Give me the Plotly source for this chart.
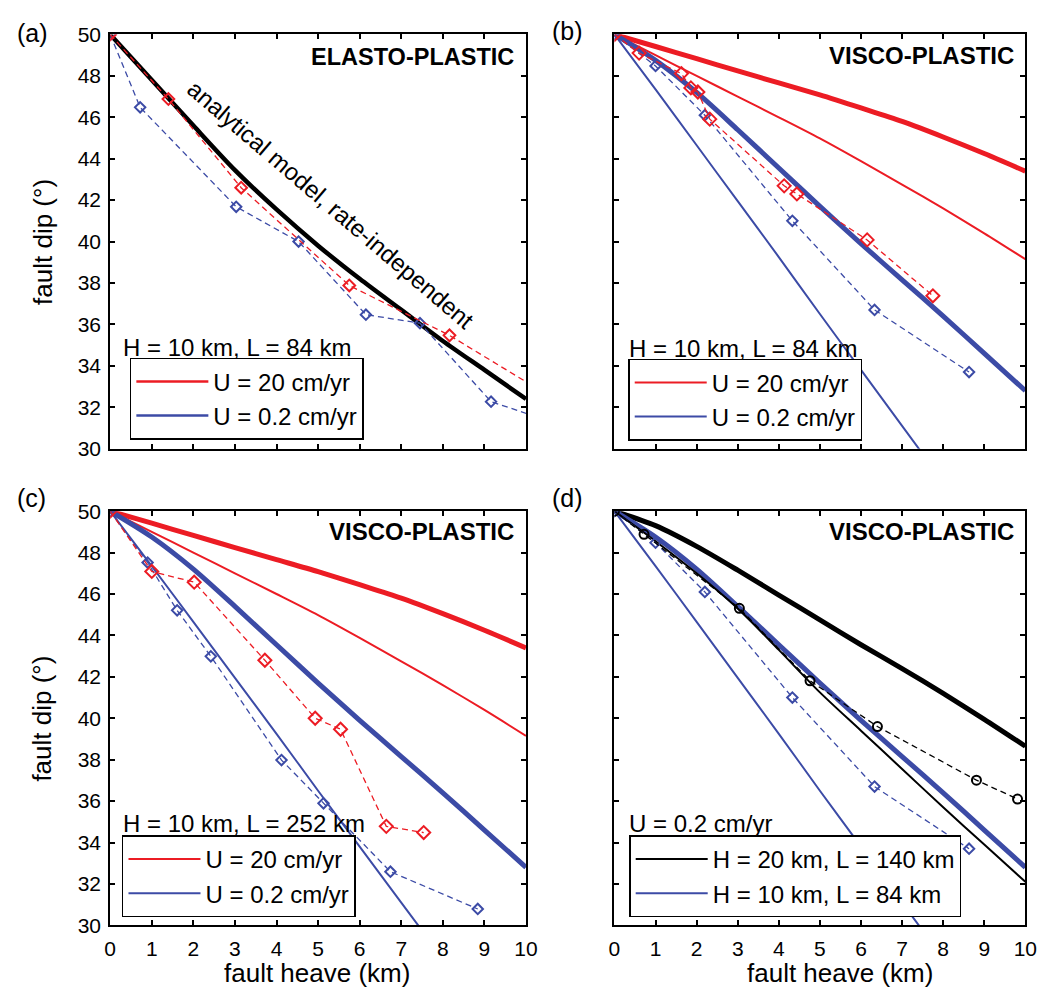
import plotly.graph_objects as go
from plotly.subplots import make_subplots

# ---------------- data ----------------
heave = [0, 1, 2, 3, 4, 5, 6, 7, 8, 9, 10]

# (a) elasto-plastic
a_analytical = [50, 47.8, 45.6, 43.45, 41.55, 39.8, 38.2, 36.7, 35.2, 33.8, 32.4]
a_red_x = [0, 1.4, 3.15, 5.75, 8.16, 10.6]
a_red_y = [50, 46.88, 42.6, 37.88, 35.47, 32.5]
a_blue_x = [0, 0.72, 3.03, 4.53, 6.15, 7.45, 9.16, 10.6]
a_blue_y = [50, 46.48, 41.68, 40.0, 36.47, 36.06, 32.27, 31.3]

# visco-plastic reference curves (H = 10 km)
vp_thick_red = [50, 49.42, 48.83, 48.24, 47.66, 47.08, 46.45, 45.8, 45.05, 44.25, 43.4]
vp_thin_red = [50, 49.0, 48.0, 47.0, 46.0, 44.98, 43.88, 42.75, 41.6, 40.4, 39.15]
vp_thick_blue = [50, 48.75, 47.2, 45.4, 43.55, 41.7, 39.9, 38.15, 36.4, 34.6, 32.8]
vp_thin_blue_x = [0, 1, 2, 3, 4, 5, 6, 7, 8]
vp_thin_blue = [50, 47.35, 44.65, 41.95, 39.25, 36.5, 33.8, 31.1, 28.4]

# (b) numerical results
b_red_x = [0, 0.6, 1.63, 1.86, 2.03, 2.32, 4.13, 4.44, 6.15, 7.75]
b_red_y = [50, 49.1, 48.11, 47.42, 47.22, 45.91, 42.69, 42.3, 40.08, 37.38]
b_blue_x = [0, 1.0, 2.2, 4.33, 6.33, 8.63]
b_blue_y = [50, 48.48, 46.1, 41.0, 36.7, 33.7]

# (c) numerical results (L = 252 km)
c_red_x = [0, 1.0, 2.02, 3.72, 4.93, 5.54, 6.64, 7.54]
c_red_y = [50, 47.09, 46.57, 42.8, 40.0, 39.47, 34.78, 34.48]
c_blue_x = [0, 0.9, 1.61, 2.42, 4.12, 5.13, 6.74, 8.84]
c_blue_y = [50, 47.52, 45.21, 42.99, 37.98, 35.89, 32.59, 30.79]

# (d) H = 20 km, L = 140 km
d_thick_black = [50, 49.3, 48.3, 47.15, 45.95, 44.75, 43.55, 42.4, 41.2, 39.95, 38.65]
d_thin_black = [50, 48.55, 47.0, 45.3, 43.3, 41.25, 39.4, 37.55, 35.7, 33.9, 32.1]
d_black_x = [0, 0.72, 3.04, 4.76, 6.4, 8.81, 9.81]
d_black_y = [50, 48.88, 45.31, 41.81, 39.6, 37.01, 36.1]

x_ticks = [0, 1, 2, 3, 4, 5, 6, 7, 8, 9, 10]
y_ticks = [30, 32, 34, 36, 38, 40, 42, 44, 46, 48, 50]

# ---------------- style ----------------
RED = '#EC1C24'
BLUE = '#3C4BA6'
BLACK = '#000000'
FONT = 'Liberation Sans, Arial, Helvetica, sans-serif'
W, H = 1057, 993
DASH = '6px,4px'


def px(x):
    return x / W


def py(y):
    return 1 - y / H


fig = make_subplots(rows=2, cols=2)


def solid(x, y, color, width, row, col, name=None, legend=None, group=None):
    fig.add_trace(go.Scatter(x=x, y=y, mode='lines',
                             line=dict(color=color, width=width, shape='spline', smoothing=0.8),
                             name=name, showlegend=name is not None,
                             legend=legend, legendgroup=group, hoverinfo='skip'),
                  row=row, col=col)


def dashed(x, y, color, symbol, size, row, col):
    fig.add_trace(go.Scatter(x=x, y=y, mode='lines+markers',
                             line=dict(color=color, width=1.3, dash=DASH),
                             marker=dict(symbol=symbol, size=size, color=color,
                                         line=dict(color=color, width=2)),
                             showlegend=False, hoverinfo='skip'),
                  row=row, col=col)


# (a)
solid(heave, a_analytical, BLACK, 4.5, 1, 1)
dashed(a_blue_x, a_blue_y, BLUE, 'diamond-open', 8, 1, 1)
dashed(a_red_x, a_red_y, RED, 'diamond-open', 9, 1, 1)
# legend entries for (a)
fig.add_trace(go.Scatter(x=[None], y=[None], mode='lines', line=dict(color=RED, width=2.5),
                         name='U = 20 cm/yr', legend='legend', legendgroup='a1'), row=1, col=1)
fig.add_trace(go.Scatter(x=[None], y=[None], mode='lines', line=dict(color=BLUE, width=2.5),
                         name='U = 0.2 cm/yr', legend='legend', legendgroup='a2'), row=1, col=1)

# (b)
solid(heave, vp_thick_red, RED, 5, 1, 2)
solid(heave, vp_thin_red, RED, 2, 1, 2, 'U = 20 cm/yr', 'legend2', 'b1')
solid(heave, vp_thick_blue, BLUE, 5, 1, 2)
solid(vp_thin_blue_x, vp_thin_blue, BLUE, 2, 1, 2, 'U = 0.2 cm/yr', 'legend2', 'b2')
dashed(b_blue_x, b_blue_y, BLUE, 'diamond-open', 8, 1, 2)
dashed(b_red_x, b_red_y, RED, 'diamond-open', 10, 1, 2)

# (c)
solid(heave, vp_thick_red, RED, 5, 2, 1)
solid(heave, vp_thin_red, RED, 2, 2, 1, 'U = 20 cm/yr', 'legend3', 'c1')
solid(heave, vp_thick_blue, BLUE, 5, 2, 1)
solid(vp_thin_blue_x, vp_thin_blue, BLUE, 2, 2, 1, 'U = 0.2 cm/yr', 'legend3', 'c2')
dashed(c_blue_x, c_blue_y, BLUE, 'diamond-open', 8, 2, 1)
dashed(c_red_x, c_red_y, RED, 'diamond-open', 10, 2, 1)

# (d)
solid(heave, d_thick_black, BLACK, 5, 2, 2)
solid(heave, vp_thick_blue, BLUE, 5, 2, 2)
solid(heave, d_thin_black, BLACK, 2, 2, 2, 'H = 20 km, L = 140 km', 'legend4', 'd1')
solid(vp_thin_blue_x, vp_thin_blue, BLUE, 2, 2, 2, 'H = 10 km, L = 84 km', 'legend4', 'd2')
dashed(b_blue_x, b_blue_y, BLUE, 'diamond-open', 8, 2, 2)
dashed(d_black_x, d_black_y, BLACK, 'circle-open', 9, 2, 2)

# ---------------- axes ----------------
xdom_l = [px(106), px(529)]
xdom_r = [px(619), px(1037)]
ydom_t = [py(447), py(23)]
ydom_b = [py(935), py(511)]

common = dict(showline=True, linecolor='black', linewidth=2, mirror='ticks',
              ticks='inside', ticklen=5, tickwidth=1.5, tickcolor='black',
              showgrid=False, zeroline=False,
              tickfont=dict(family=FONT, size=21, color='black'))

for i, (xd, yd, showx, showy) in enumerate([
        (xdom_l, ydom_t, False, True),
        (xdom_r, ydom_t, False, False),
        (xdom_l, ydom_b, True, True),
        (xdom_r, ydom_b, True, False)], start=1):
    xs = '' if i == 1 else str(i)
    fig.layout['xaxis' + xs].update(domain=xd, range=[0, 10], tickmode='array',
                                    tickvals=x_ticks, showticklabels=showx,
                                    ticklabelstandoff=3, **common)
    fig.layout['yaxis' + xs].update(domain=yd, range=[30, 50], tickmode='array',
                                    tickvals=y_ticks, showticklabels=showy,
                                    ticklabelstandoff=3, **common)

# ---------------- legends ----------------
def legend_box(left, top):
    return dict(x=px(left), y=py(top), xanchor='left', yanchor='top',
                bgcolor='white', bordercolor='black', borderwidth=1.5,
                font=dict(family=FONT, size=24, color='black'),
                itemwidth=72, tracegroupgap=3, traceorder='normal')


fig.update_layout(
    legend=legend_box(126, 354),
    legend2=legend_box(633, 355),
    legend3=legend_box(118, 843),
    legend4=legend_box(634, 843),
)

# ---------------- annotations ----------------
ann = []


def text(x, y, s, size=23, xanchor='center', yanchor='middle', bold=False, angle=0):
    ann.append(dict(x=px(x), y=py(y), xref='paper', yref='paper', text=('<b>%s</b>' % s) if bold else s,
                    showarrow=False, xanchor=xanchor, yanchor=yanchor, textangle=angle,
                    font=dict(family=FONT, size=size, color='black')))


text(27, 21, '(a)', 25)
text(571, 19, '(b)', 25)
text(26, 498, '(c)', 25)
text(571, 498, '(d)', 25)

text(519, 46, 'ELASTO-PLASTIC', 23.5, xanchor='right', bold=True)
text(1028, 45, 'VISCO-PLASTIC', 24, xanchor='right', bold=True)
text(519, 532, 'VISCO-PLASTIC', 24, xanchor='right', bold=True)
text(1028, 532, 'VISCO-PLASTIC', 24, xanchor='right', bold=True)

text(117, 343, 'H = 10 km, L = 84 km', 24, xanchor='left')
text(632, 344, 'H = 10 km, L = 84 km', 24, xanchor='left')
text(117, 831, 'H = 10 km, L = 252 km', 24, xanchor='left')
text(632, 831, 'U = 0.2 cm/yr', 24, xanchor='left')

text(37, 235, 'fault dip (°)', 26, angle=-90)
text(37, 723, 'fault dip (°)', 26, angle=-90)
text(316, 984, 'fault heave (km)', 26)
text(848, 984, 'fault heave (km)', 26)

ann.append(dict(x=5.3, y=41.78, xref='x', yref='y', text='analytical model, rate-independent',
                showarrow=False, textangle=40.5, xanchor='center', yanchor='middle',
                font=dict(family=FONT, size=24, color='black')))

fig.update_layout(annotations=ann, width=W, height=H,
                  margin=dict(l=0, r=0, t=0, b=0),
                  paper_bgcolor='white', plot_bgcolor='white',
                  font=dict(family=FONT, color='black'))

fig.write_html('out.html')
